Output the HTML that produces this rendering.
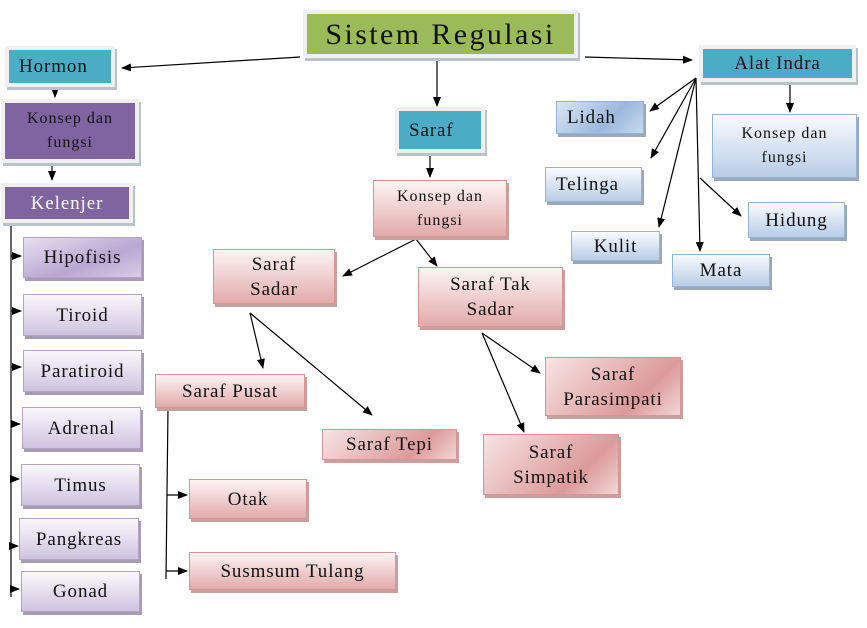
<!DOCTYPE html>
<html><head><meta charset="utf-8"><style>
body{margin:0;width:867px;height:628px;background:#fff;position:relative;overflow:hidden;font-family:"Liberation Serif",serif;}
.b{position:absolute;box-sizing:border-box;display:flex;align-items:center;justify-content:center;text-align:center;line-height:25px;font-size:19px;letter-spacing:0.9px;color:#111;white-space:nowrap;}
.solid{border:4px solid #f0f0f0;box-shadow:2px 3px 0 #b8c4c8;}
.teal{background:#4bacc6;}
.green{background:#9bbb59;}
.purp{background:#8064a2;}
.lav{background:linear-gradient(#faf8fc,#cfc3e0);border:1px solid #b5a2cc;box-shadow:2px 3px 0 #a89cb3;}
.pink{background:linear-gradient(#fdf4f4,#e2aaaa);border:1px solid #d99594;box-shadow:2px 3px 0 #c9a0a0;}
.pink2{background:linear-gradient(135deg,#f7e4e4,#dc9a9a 70%,#f2d6d6);border:1px solid #d99594;box-shadow:2px 3px 0 #c9a0a0;}
.blue{background:linear-gradient(#f8fbff,#b9cde6);border:1px solid #95b3d7;box-shadow:2px 3px 0 #9aa8b8;}
.k{font-size:16px;letter-spacing:1px;line-height:24px;}
svg{position:absolute;left:0;top:0;}
</style></head><body>
<svg width="867" height="628" viewBox="0 0 867 628">
<defs><marker id="a" markerWidth="10" markerHeight="8" refX="9" refY="4" orient="auto" markerUnits="userSpaceOnUse"><path d="M0,0 L10,4 L0,8z" fill="#000"/></marker></defs>
<g stroke="#000" stroke-width="1.2" fill="none" marker-end="url(#a)">
<line x1="300" y1="57" x2="122" y2="68"/>
<line x1="437" y1="60" x2="437" y2="106"/>
<line x1="585" y1="57" x2="692" y2="60"/>
<line x1="55" y1="86" x2="55" y2="97"/>
<line x1="52" y1="163" x2="52" y2="180"/>
<line x1="696" y1="78" x2="650" y2="111"/>
<line x1="696" y1="78" x2="651" y2="158"/>
<line x1="696" y1="78" x2="659" y2="227"/>
<line x1="696" y1="78" x2="700" y2="251"/>
<line x1="700" y1="178" x2="741" y2="216"/>
<line x1="790" y1="85" x2="790" y2="112"/>
<line x1="430" y1="153" x2="430" y2="177"/>
<line x1="416" y1="239" x2="343" y2="276"/>
<line x1="416" y1="239" x2="437" y2="266"/>
<line x1="250" y1="313" x2="263" y2="368"/>
<line x1="250" y1="313" x2="372" y2="415"/>
<line x1="482" y1="333" x2="540" y2="373"/>
<line x1="482" y1="333" x2="524" y2="432"/>
<line x1="167" y1="495" x2="187" y2="495"/>
<line x1="166" y1="571" x2="187" y2="571"/>
<line x1="11" y1="256" x2="21" y2="256"/>
<line x1="11" y1="311" x2="21" y2="311"/>
<line x1="11" y1="367" x2="21" y2="367"/>
<line x1="11" y1="424" x2="20" y2="424"/>
<line x1="11" y1="479" x2="19" y2="479"/>
<line x1="11" y1="546" x2="18" y2="546"/>
<line x1="11" y1="589" x2="19" y2="589"/>
</g>
<g stroke="#000" stroke-width="1.2">
<line x1="11" y1="222" x2="11" y2="597"/>
<line x1="168" y1="408" x2="166" y2="579"/>
</g>
</svg>
<div class="b solid green" style="left:303px;top:10px;width:275px;height:48px;font-size:30px;letter-spacing:2.4px;">Sistem Regulasi</div>
<div class="b solid teal" style="left:5px;top:46px;width:110px;height:41px;justify-content:flex-start;padding-left:10px;">Hormon</div>
<div class="b solid purp k" style="left:1px;top:99px;width:138px;height:64px;">Konsep dan<br>fungsi</div>
<div class="b solid purp" style="left:1px;top:183px;width:132px;height:40px;color:#fff;">Kelenjer</div>
<div class="b lav" style="left:23px;top:237px;width:119px;height:41px;background:linear-gradient(160deg,#e8e0f0,#b9a6d2 60%,#d8cde6);">Hipofisis</div>
<div class="b lav" style="left:23px;top:294px;width:119px;height:42px;">Tiroid</div>
<div class="b lav" style="left:23px;top:350px;width:119px;height:42px;">Paratiroid</div>
<div class="b lav" style="left:22px;top:407px;width:119px;height:42px;">Adrenal</div>
<div class="b lav" style="left:21px;top:464px;width:119px;height:42px;">Timus</div>
<div class="b lav" style="left:19px;top:518px;width:120px;height:42px;">Pangkreas</div>
<div class="b lav" style="left:21px;top:571px;width:119px;height:41px;">Gonad</div>
<div class="b solid teal" style="left:395px;top:107px;width:90px;height:46px;justify-content:flex-start;padding-left:10px;">Saraf</div>
<div class="b pink k" style="left:373px;top:180px;width:134px;height:57px;">Konsep dan<br>fungsi</div>
<div class="b pink" style="left:213px;top:249px;width:122px;height:55px;">Saraf<br>Sadar</div>
<div class="b pink" style="left:418px;top:267px;width:145px;height:60px;">Saraf Tak<br>Sadar</div>
<div class="b pink" style="left:155px;top:374px;width:150px;height:34px;">Saraf Pusat</div>
<div class="b pink2" style="left:322px;top:429px;width:135px;height:31px;">Saraf Tepi</div>
<div class="b pink2" style="left:545px;top:357px;width:136px;height:59px;">Saraf<br>Parasimpati</div>
<div class="b pink2" style="left:483px;top:434px;width:136px;height:61px;">Saraf<br>Simpatik</div>
<div class="b pink" style="left:189px;top:479px;width:118px;height:40px;">Otak</div>
<div class="b pink" style="left:189px;top:552px;width:207px;height:38px;">Susmsum Tulang</div>
<div class="b solid teal" style="left:699px;top:45px;width:157px;height:37px;">Alat Indra</div>
<div class="b blue k" style="left:712px;top:114px;width:145px;height:64px;">Konsep dan<br>fungsi</div>
<div class="b blue" style="left:556px;top:101px;width:88px;height:33px;background:linear-gradient(135deg,#dbe6f3,#9bb8dc 60%,#c8d8ec);justify-content:flex-start;padding-left:10px;">Lidah</div>
<div class="b blue" style="left:545px;top:167px;width:97px;height:35px;justify-content:flex-start;padding-left:10px;">Telinga</div>
<div class="b blue" style="left:571px;top:231px;width:89px;height:30px;">Kulit</div>
<div class="b blue" style="left:672px;top:254px;width:98px;height:33px;">Mata</div>
<div class="b blue" style="left:748px;top:202px;width:97px;height:36px;">Hidung</div>
</body></html>
